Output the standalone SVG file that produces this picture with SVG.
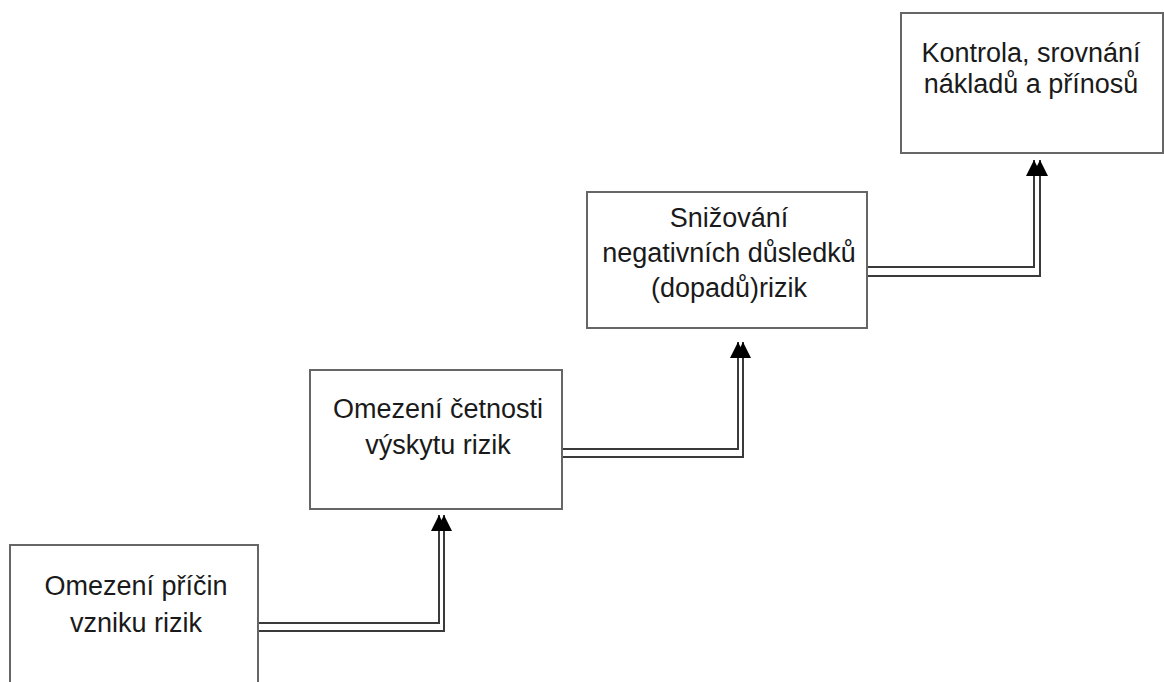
<svg xmlns="http://www.w3.org/2000/svg" width="1164" height="682" viewBox="0 0 1164 682">
  <style>
    .box { fill: #ffffff; stroke: #666666; stroke-width: 2; }
    .lbl { font-family: "Liberation Sans", Arial, sans-serif; font-size: 27px; fill: #1a1a1a; text-anchor: middle; }
    .wire { fill: none; stroke: #3a3a3a; stroke-width: 2; }
  </style>
  <defs>
    <marker id="arrow" markerUnits="userSpaceOnUse" markerWidth="18" markerHeight="18" refX="16" refY="8" orient="auto">
      <path d="M0,0 L16,8 L0,16 Z" fill="#000000"/>
    </marker>
  </defs>
  <rect width="1164" height="682" fill="#ffffff"/>

  <g id="connectors">
    <path class="wire" d="M258,623 H439 V515" marker-end="url(#arrow)"/>
    <path class="wire" d="M258,631 H444 V515" marker-end="url(#arrow)"/>
    <path class="wire" d="M563,449 H738 V342" marker-end="url(#arrow)"/>
    <path class="wire" d="M563,457 H743 V342" marker-end="url(#arrow)"/>
    <path class="wire" d="M868,267 H1034 V160" marker-end="url(#arrow)"/>
    <path class="wire" d="M868,276 H1040 V160" marker-end="url(#arrow)"/>
  </g>

  <g id="node-priciny">
    <rect class="box" x="10" y="545" width="248" height="200"/>
    <text class="lbl" x="136" y="595">Omezení příčin</text>
    <text class="lbl" x="136" y="632">vzniku rizik</text>
  </g>

  <g id="node-cetnost">
    <rect class="box" x="310" y="370" width="252" height="139"/>
    <text class="lbl" x="438" y="418">Omezení četnosti</text>
    <text class="lbl" x="438" y="454">výskytu rizik</text>
  </g>

  <g id="node-dusledky">
    <rect class="box" x="587" y="192" width="280" height="136"/>
    <text class="lbl" x="729" y="227">Snižování</text>
    <text class="lbl" x="729" y="262">negativních důsledků</text>
    <text class="lbl" x="729" y="297">(dopadů)rizik</text>
  </g>

  <g id="node-kontrola">
    <rect class="box" x="901" y="13" width="262" height="140"/>
    <text class="lbl" x="1031" y="62">Kontrola, srovnání</text>
    <text class="lbl" x="1031" y="93">nákladů a přínosů</text>
  </g>
</svg>
